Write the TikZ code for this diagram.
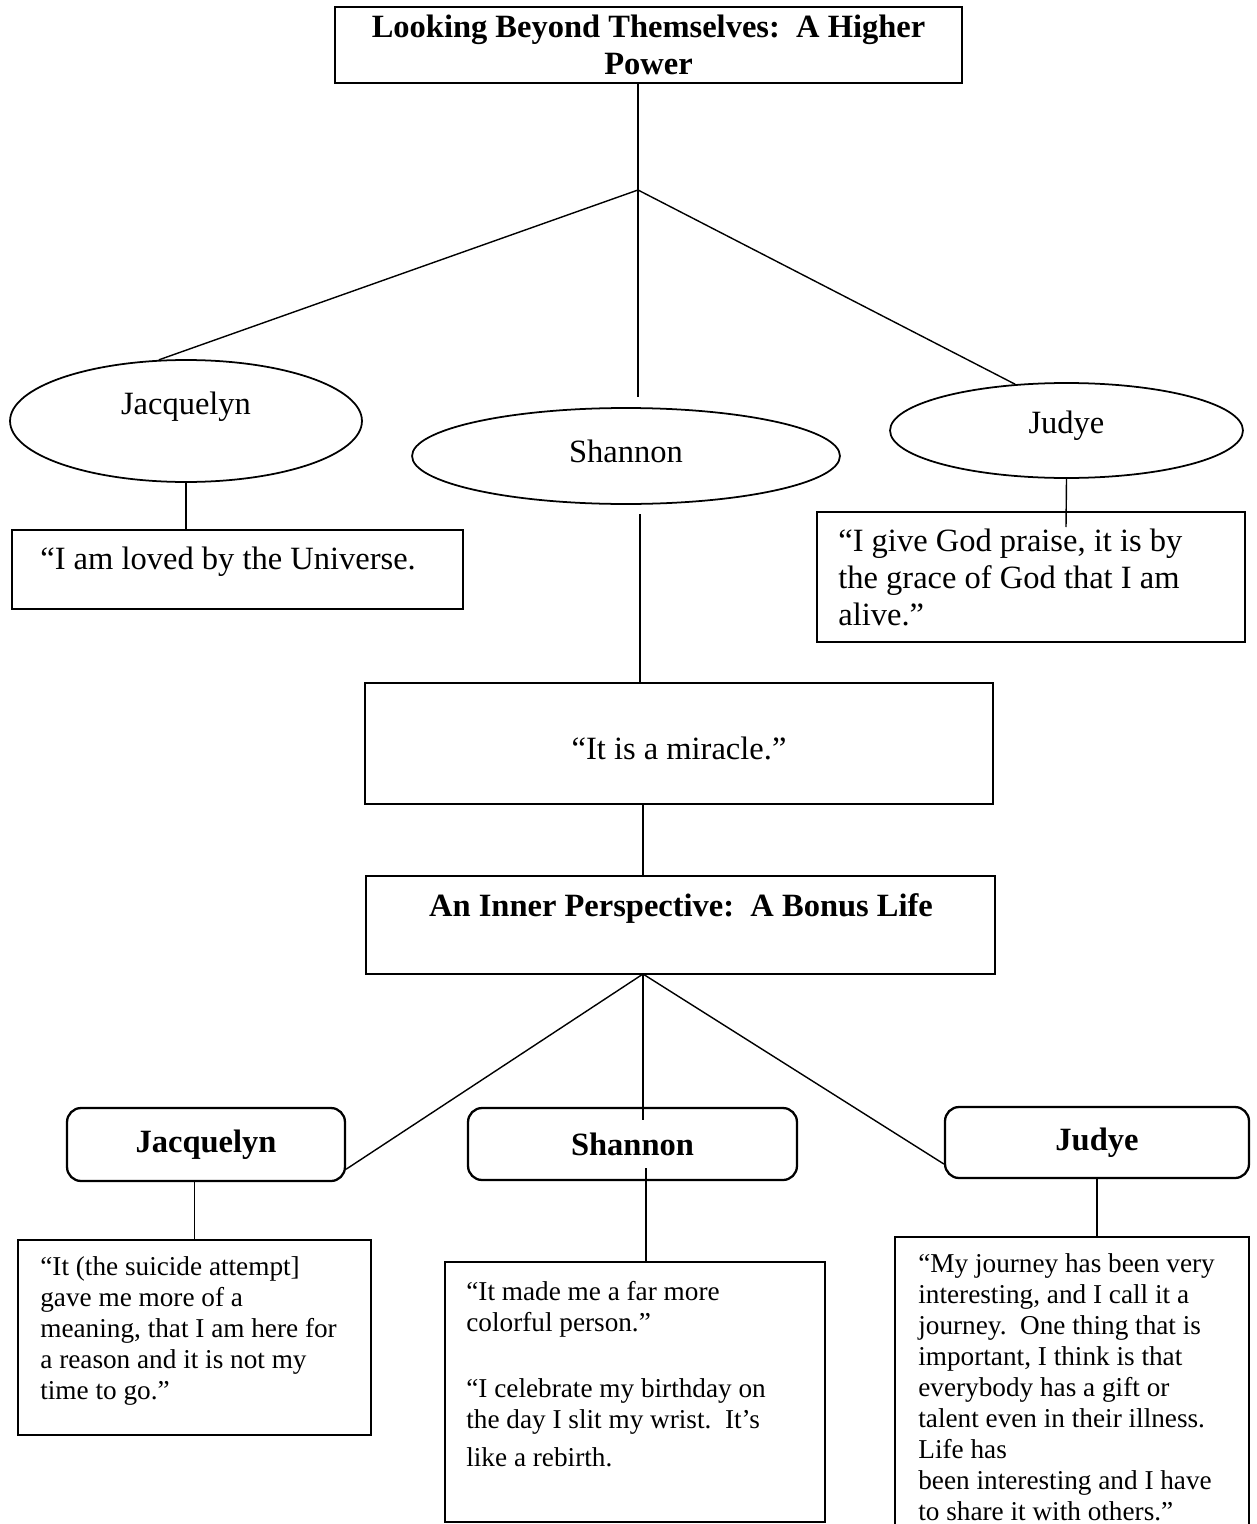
\documentclass[tikz,border=0pt]{standalone}
\usepackage{fontspec}
\setmainfont{Liberation Serif}
\usetikzlibrary{shapes.geometric}
\tikzset{
  box/.style={draw, line width=1.3pt, inner sep=0pt},
  person/.style={draw, ellipse, line width=1pt, inner sep=0pt},
  namebox/.style={draw, rounded corners=8pt, line width=1.3pt, inner sep=0pt,
    font=\fontsize{18.5}{21}\selectfont\bfseries},
  link/.style={line width=0.8pt},
  big/.style={inner sep=0pt, font=\fontsize{18.5}{21}\selectfont},
  small/.style={inner sep=0pt, align=left, font=\fontsize{15.5}{17.6}\selectfont},
}
\begin{document}
\begin{tikzpicture}[x=0.02cm, y=-0.02cm]
\useasboundingbox (0,0) rectangle (1257,1524);
% a higher power
\node[box, align=center, font=\fontsize{18.5}{21}\selectfont\bfseries,
  minimum width=12.54cm, minimum height=1.52cm] (higher) at (648.5,45)
  {Looking Beyond Themselves:\enspace A Higher\\Power};
\coordinate (hp) at (638,190);
\node[person, minimum width=7.04cm, minimum height=2.44cm] (jacq) at (186,421) {};
\node[big] (jacqtxt) at ([yshift=0.28cm]jacq.center) {Jacquelyn};
\node[person, minimum width=8.56cm, minimum height=1.92cm] (shan) at (626,456) {};
\node[big] (shantxt) at ([yshift=0.1cm]shan.center) {Shannon};
\node[person, minimum width=7.06cm, minimum height=1.9cm] (judy) at (1066.5,430.5) {};
\node[big] (judytxt) at ([yshift=0.1cm]judy.center) {Judye};
\coordinate (shanup) at (638,397);
\coordinate (shandown) at (640,514);
\coordinate (judytick) at (1066,527);
\node[box, minimum width=9.02cm, minimum height=1.58cm] (jacqsay) at (237.5,569.5) {};
\node[big, anchor=base west] (jacqsaytxt) at (40,569) {“I am loved by the Universe.};
\node[box, minimum width=8.56cm, minimum height=2.6cm] (judysay) at (1031,577) {};
% base of a multi-line node is its last line
\node[big, align=left, anchor=base west] (judysaytxt) at (838,625)
  {“I give God praise, it is by\\the grace of God that I am\\alive.”};
\node[box, minimum width=12.56cm, minimum height=2.42cm] (miracle) at (679,743.5) {};
\node[big, anchor=base] (miracletxt) at (679,759) {“It is a miracle.”};
% a bonus life
\node[box, minimum width=12.58cm, minimum height=1.96cm] (inner) at (680.5,925) {};
\node[big, anchor=base, font=\fontsize{18.5}{21}\selectfont\bfseries] (innertxt) at (681,916)
  {An Inner Perspective:\enspace A Bonus Life};
\coordinate (bp) at (643,974);
\coordinate (shantick) at (643,1120);
\coordinate (shanmid) at (646,1168);
\node[namebox, minimum width=5.56cm, minimum height=1.46cm] (jacqname) at (206,1144.5) {Jacquelyn};
\node[namebox, minimum width=6.58cm, minimum height=1.44cm] (shanname) at (632.5,1144) {Shannon};
\node[namebox, minimum width=6.08cm, minimum height=1.42cm] (judyname) at (1097,1142.5) {Judye};
\node[box, minimum width=7.06cm, minimum height=3.9cm] (jacqq) at (194.5,1337.5) {};
\node[small, anchor=base west] (jacqqtxt) at (40,1399)
  {“It (the suicide attempt]\\gave me more of a\\meaning, that I am here for\\a reason and it is not my\\time to go.”};
\node[box, minimum width=7.6cm, minimum height=5.2cm] (shanq) at (635,1392) {};
\node[small, anchor=base west] (shanqtxt) at (466,1466)
  {“It made me a far more\\colorful person.”\\[20pt]“I celebrate my birthday on\\the day I slit my wrist.\enspace It’s\\[4pt]like a rebirth.};
\node[box, minimum width=7.08cm, minimum height=6.06cm] (judyq) at (1072,1388.5) {};
\node[small, anchor=base west] (judyqtxt) at (918,1520)
  {“My journey has been very\\interesting, and I call it a\\journey.\enspace One thing that is\\important, I think is that\\everybody has a gift or\\talent even in their illness.\\Life has\\been interesting and I have\\to share it with others.”};
% connectors
\draw[link] (higher.south -| hp) -- (hp);
\draw[link] (hp) -- (jacq.114);
\draw[link] (hp) -- (judy.138);
\draw[link] (hp) -- (shanup);
\draw[link] (jacq.south) -- (jacqsay.north -| jacq.south);
\draw[link] (judy.south) -- (judytick);
\draw[link] (shandown) -- (miracle.north -| shandown);
\draw[link] (miracle.south -| bp) -- (inner.north -| bp);
\draw[link] (bp) -- (jacqname.-10);
\draw[link] (bp) -- (judyname.188);
\draw[link] (bp) -- (shantick);
\draw[link] (jacqq.north) -- (jacqq.north |- jacqname.south);
\draw[link] (shanmid) -- (shanmid |- shanq.north);
\draw[link] (judyname.south) -- (judyname.south |- judyq.north);
\end{tikzpicture}
\end{document}
